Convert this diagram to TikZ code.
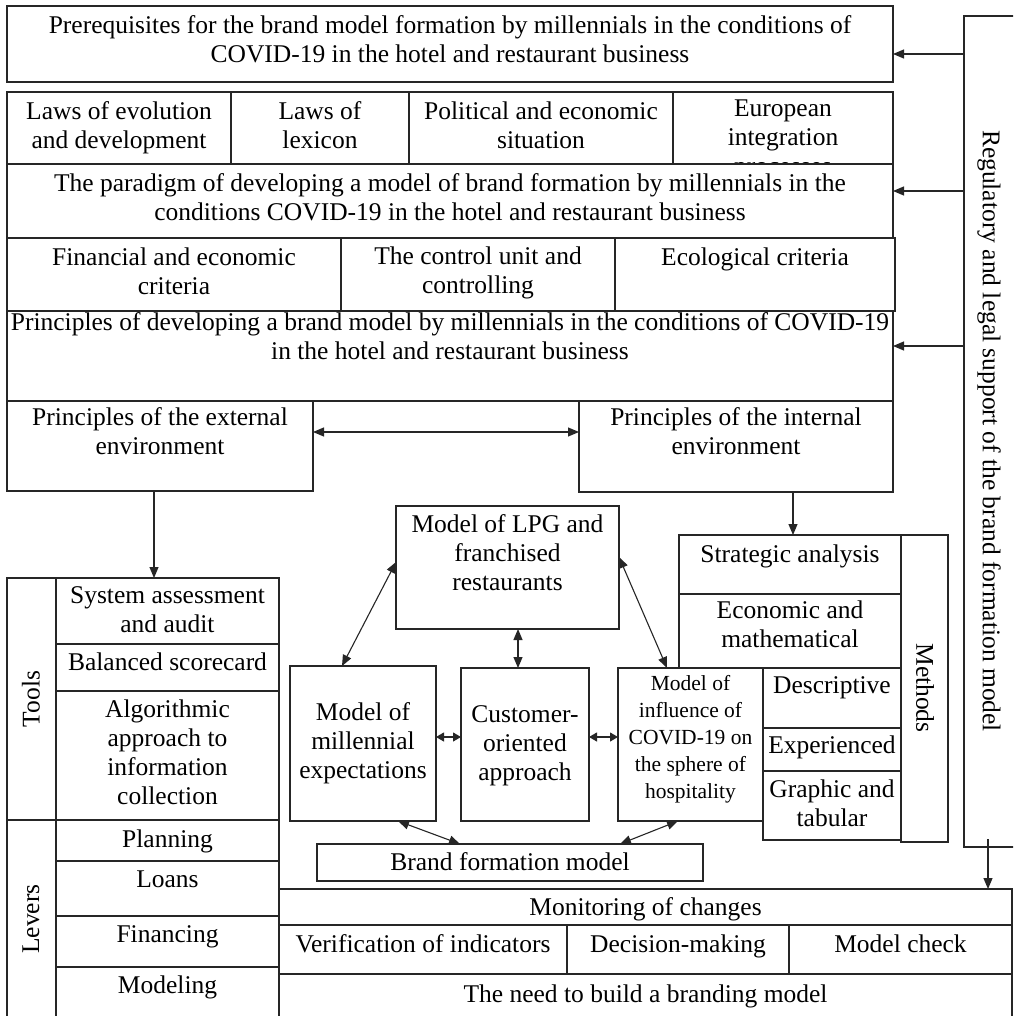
\documentclass[tikz,border=0pt]{standalone}
\usepackage{fontspec}
\setmainfont{Liberation Serif}
\usetikzlibrary{arrows.meta}
\newcommand\fsz{\fontsize{25.5}{29}\selectfont}
\newcommand\fsm{\fontsize{21.5}{27}\selectfont}
\tikzset{
  boxst/.style={draw=black!85, fill=white, line width=1.1pt, inner sep=0pt, outer sep=0pt, rectangle},
  txtst/.style={font=\fsz, align=center, inner sep=0pt},
  arr/.style={-{Triangle[length=11pt,width=9pt]}, line width=1.1pt, draw=black!85},
  darr/.style={{Triangle[length=11pt,width=9pt]}-{Triangle[length=11pt,width=9pt]}, line width=1.1pt, draw=black!85},
  sdarr/.style={{Triangle[length=8pt,width=9pt]}-{Triangle[length=8pt,width=9pt]}, line width=1.1pt, draw=black!85},
  vlab/.style={font=\fsz, inner sep=0pt}
}
% \bx[offset]{name}{x1}{y1}{x2}{y2}{text}
\newcommand\bx[7][6]{%
  \node[boxst, minimum width={#5-#3}, minimum height={#6-#4}] (#2) at ({(#3+#5)/2},{(#4+#6)/2}) {};
  \node[txtst, anchor=north] (#2t) at ({(#3+#5)/2},{#4+#1}) {\strut#7};}
\begin{document}
\begin{tikzpicture}[x=1pt,y=-1pt]
\useasboundingbox (0,0) rectangle (1013,1016);
\clip (0,0) rectangle (1013,1016);
\fill[white] (0,0) rectangle (1013,1016);

% top part
\bx[7]{b1}{7}{6}{893}{82}{Prerequisites for the brand model formation by millennials in the conditions of\\COVID-19 in the hotel and restaurant business}
\bx[7]{laws1}{7}{92}{231}{164}{Laws of evolution\\and development}
\bx[7]{laws2}{231}{92}{409}{164}{Laws of\\lexicon}
\bx[7]{pol}{409}{92}{673}{164}{Political and economic\\situation}
\bx[4]{eur}{673}{92}{893}{164}{European\\integration\\processes}
\bx[7]{parad}{7}{164}{893}{238}{The paradigm of developing a model of brand formation by millennials in the\\conditions COVID-19 in the hotel and restaurant business}
\bx[7]{fincr}{7}{238}{341}{311}{Financial and economic\\criteria}
\bx[6]{ctrl}{341}{238}{615}{311}{The control unit and\\controlling}
\bx[7]{eco}{615}{238}{895}{311}{Ecological criteria}
\bx[-1]{princ}{7}{311}{893}{401}{Principles of developing a brand model by millennials in the conditions of COVID-19\\in the hotel and restaurant business}
\bx[4]{ext}{7}{401}{313}{491}{Principles of the external\\environment}
\bx[4]{int}{579}{401}{893}{492}{Principles of the internal\\environment}

% regulatory bar
\node[boxst, minimum width=56, minimum height=831] (reg) at (992,431.5) {};
\node[vlab, rotate=-90] (regt) at (989,431) {Regulatory and legal support of the brand formation model};

% tools
\node[boxst, minimum width=49, minimum height=242] (tools) at (31.5,699) {};
\node[vlab, rotate=90] (toolst) at (31,699) {Tools};
\bx[5]{sys}{56}{578}{279}{644}{System assessment\\and audit}
\bx[6]{bal}{56}{644}{279}{691}{Balanced scorecard}
\bx[6]{alg}{56}{691}{279}{820}{Algorithmic\\approach to\\information\\collection}

% levers
\node[boxst, minimum width=49, minimum height=210] (levers) at (31.5,925) {};
\node[vlab, rotate=90] (leverst) at (31,919) {Levers};
\bx[7]{plan}{56}{820}{279}{861}{Planning}
\bx[6]{loans}{56}{861}{279}{916}{Loans}
\bx[6]{finc}{56}{916}{279}{967}{Financing}
\bx[6]{modl}{56}{967}{279}{1030}{Modeling}

% bottom block
\bx[6]{mon}{279}{889}{1012}{925}{Monitoring of changes}
\bx[7]{verif}{279}{925}{567}{974}{Verification of indicators}
\bx[7]{dec}{567}{925}{789}{974}{Decision-making}
\bx[7]{mchk}{789}{925}{1012}{974}{Model check}
\bx[8]{need}{279}{974}{1012}{1030}{The need to build a branding model}

% methods
\bx[7]{strat}{679}{535}{901}{594}{Strategic analysis}
\bx[4]{econ}{679}{594}{901}{668}{Economic and\\mathematical}
\bx[5]{desc}{763}{668}{901}{728}{Descriptive}
\bx[5]{exper}{763}{728}{901}{771}{Experienced}
\bx[6]{graph}{763}{771}{901}{840}{Graphic and\\tabular}
\node[boxst, minimum width=47, minimum height=307] (meth) at (924.5,688.5) {};
\node[vlab, rotate=-90] (metht) at (925,688) {Methods};

% centre models
\bx[6]{lpg}{396}{506}{619}{629}{Model of LPG and\\franchised\\restaurants}
\bx[34]{mill}{290}{666}{436}{821}{Model of\\millennial\\expectations}
\bx[34]{cust}{461}{668}{589}{821}{Customer-\\oriented\\approach}
\node[boxst, minimum width=145, minimum height=153] (infl) at (690.5,744.5) {};
\node[txtst, font=\fsm, anchor=north] (inflt) at (690.5,671) {\strut Model of\\influence of\\COVID-19 on\\the sphere of\\hospitality};
\bx[6]{brand}{317}{844}{703}{881}{Brand formation model}

% connectors
\coordinate (p1) at (964,54);
\coordinate (p2) at (964,191);
\coordinate (p3) at (964,346);
\draw[arr] (reg.west |- p1) -- (b1.east |- p1);
\draw[arr] (reg.west |- p2) -- (parad.east |- p2);
\draw[arr] (reg.west |- p3) -- (princ.east |- p3);
\coordinate (p4) at (0,432);
\draw[darr] (ext.east |- p4) -- (int.west |- p4);
\coordinate (p5) at (154,0);
\draw[arr] (ext.south -| p5) -- (sys.north -| p5);
\coordinate (p6) at (793,0);
\draw[arr] (int.south -| p6) -- (strat.north -| p6);
\coordinate (p7) at (0,562);
\coordinate (p8) at (342,0);
\draw[darr] (lpg.west |- p7) -- (mill.north -| p8);
\coordinate (p9) at (0,557);
\coordinate (p10) at (667,0);
\draw[darr] (lpg.east |- p9) -- (infl.north -| p10);
\coordinate (p11) at (518,0);
\draw[darr] (lpg.south -| p11) -- (cust.north -| p11);
\coordinate (p12) at (0,737);
\draw[sdarr] (mill.east |- p12) -- (cust.west |- p12);
\draw[sdarr] (cust.east |- p12) -- (infl.west |- p12);
\coordinate (p13) at (398,0);
\coordinate (p14) at (460,0);
\draw[darr] (mill.south -| p13) -- (brand.north -| p14);
\coordinate (p15) at (678,0);
\coordinate (p16) at (620,0);
\draw[darr] (infl.south -| p15) -- (brand.north -| p16);
\coordinate (p17) at (988,839);
\draw[arr] (p17) -- (mon.north -| p17);
\end{tikzpicture}
\end{document}
